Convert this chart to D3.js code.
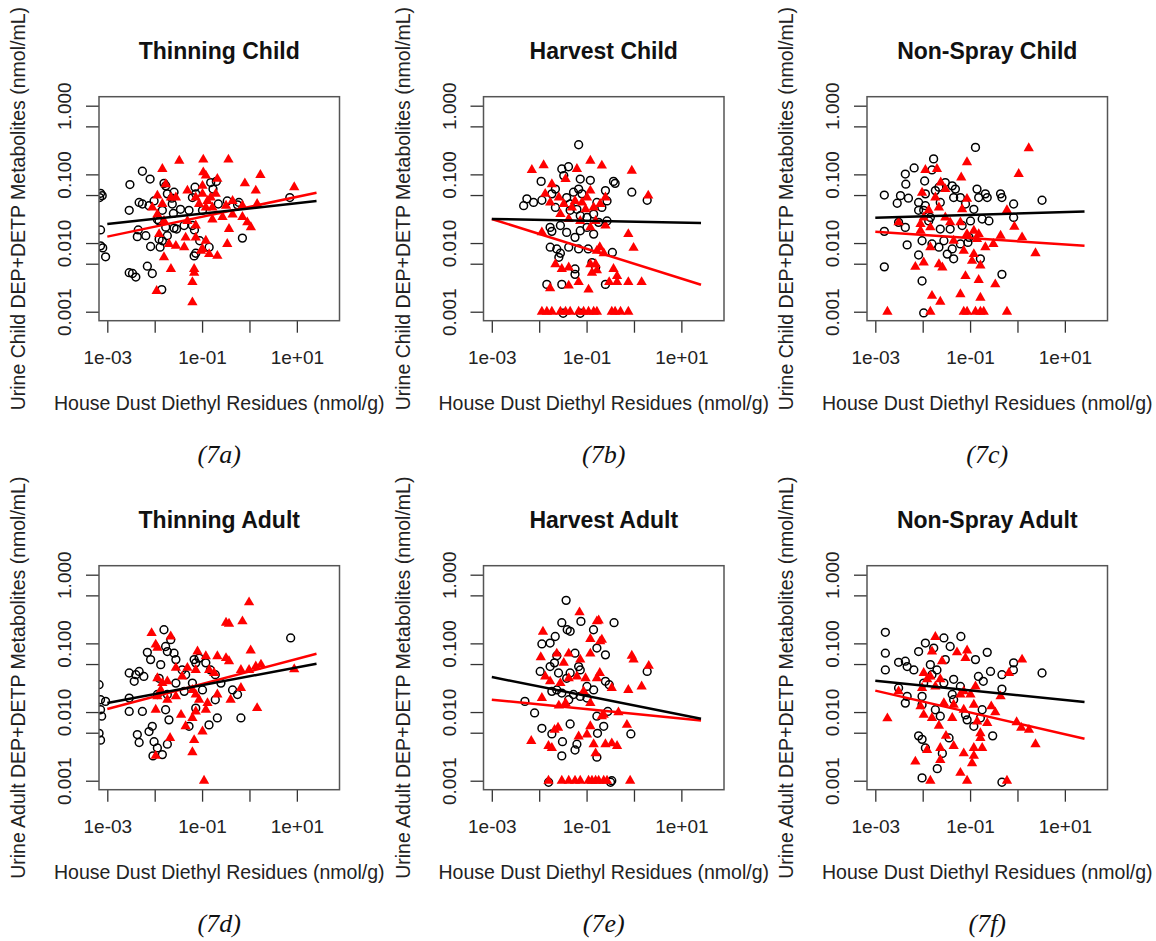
<!DOCTYPE html>
<html>
<head>
<meta charset="utf-8">
<script src="https://cdn.jsdelivr.net/npm/d3@7"></script>
<style>
  html, body { margin: 0; padding: 0; background: #fff; }
  svg { display: block; }
</style>
</head>
<body>
<svg id="fig" width="1156" height="941"></svg>
<script>
// values: [house dust residue nmol/g, urine metabolite nmol/mL]
const titles = ["Thinning Child", "Harvest Child", "Non-Spray Child",
                "Thinning Adult", "Harvest Adult", "Non-Spray Adult"];
const captions = ["(7a)", "(7b)", "(7c)", "(7d)", "(7e)", "(7f)"];
const yLabels = ["Urine Child DEP+DETP Metabolites (nmol/mL)", "Urine Child DEP+DETP Metabolites (nmol/mL)",
                 "Urine Child DEP+DETP Metabolites (nmol/mL)", "Urine Adult DEP+DETP Metabolites (nmol/mL)",
                 "Urine Adult DEP+DETP Metabolites (nmol/mL)", "Urine Adult DEP+DETP Metabolites (nmol/mL)"];
const xLabel = "House Dust Diethyl Residues (nmol/g)";
const xTicks = [0.001, 0.01, 0.1, 1, 10];
const xTickLabels = ["1e-03", "", "1e-01", "", "1e+01"];
const yTicks = [0.001, 0.005, 0.01, 0.05, 0.1, 0.5, 1];
const yTickLabels = ["0.001", "", "0.010", "", "0.100", "", "1.000"];

// fitted lines run over the same x span in every panel
const fitX = [0.001, 26];

// ---- Thinning Child ----
const thinChildCirc = [
  [0.00072,0.053],[0.00078,0.049],[0.00069,0.046],[0.00072,0.0155],[0.00072,0.0091],[0.0008,0.0085],[0.00092,0.0063],
  [0.0055,0.111],[0.008,0.0855],[0.003,0.071],[0.0029,0.030],[0.0047,0.039],[0.0055,0.037],[0.0076,0.035],
  [0.0045,0.0155],[0.0043,0.0124],[0.0065,0.0128],[0.0082,0.0089],[0.0034,0.0036],[0.004,0.0032],[0.007,0.0046],
  [0.0089,0.0036],[0.0029,0.0037],[0.0141,0.0021],[0.0157,0.074],[0.0171,0.068],[0.0185,0.052],[0.023,0.045],
  [0.0256,0.055],[0.0625,0.046],[0.071,0.065],[0.0248,0.027],[0.0145,0.030],[0.0114,0.022],[0.0124,0.021],
  [0.0171,0.017],[0.0256,0.0165],[0.029,0.016],[0.0417,0.018],[0.0625,0.018],[0.069,0.0155],[0.0124,0.0114],
  [0.0185,0.0128],[0.013,0.0087],[0.089,0.0108],[0.141,0.0087],[0.068,0.0065],[0.0735,0.0071],[0.152,0.076],
  [0.17,0.061],[0.2,0.079],[0.22,0.037],[0.6,0.039],[0.56,0.036],[0.71,0.0118],[7.1,0.046],[0.102,0.030],
  [0.0097,0.041],[0.0235,0.037],[0.035,0.031],[0.053,0.030],[0.0145,0.0108],[0.0735,0.052],[0.34,0.041]
];
const thinChildTri = [
  [0.033,0.158],[0.106,0.164],[0.36,0.164],[0.0145,0.120],[0.106,0.107],[0.12,0.096],[0.21,0.086],[1.7,0.098],
  [0.8,0.074],[1.36,0.058],[8.8,0.065],[0.0114,0.049],[0.0145,0.037],[0.0089,0.033],[0.022,0.046],[0.049,0.058],
  [0.0735,0.046],[0.102,0.052],[0.13,0.041],[0.152,0.046],[0.194,0.052],[0.0865,0.037],[0.12,0.033],[0.165,0.033],
  [0.32,0.035],[0.44,0.041],[0.71,0.035],[1.45,0.037],[0.44,0.026],[0.27,0.024],[0.71,0.024],[0.9,0.020],
  [1.07,0.017],[0.37,0.016],[0.165,0.022],[0.049,0.021],[0.0735,0.018],[0.0114,0.026],[0.0157,0.021],[0.0124,0.0135],
  [0.020,0.0097],[0.028,0.0091],[0.042,0.0087],[0.0735,0.012],[0.045,0.012],[0.12,0.0108],[0.141,0.0069],[0.21,0.0065],
  [0.34,0.0097],[0.102,0.0082],[0.0157,0.0062],[0.022,0.0042],[0.068,0.0042],[0.068,0.0037],[0.0625,0.0027],[0.011,0.002],
  [0.0625,0.00137],[0.0171,0.072],[0.102,0.068],[0.095,0.0077],[0.028,0.046]
];
const thinChildFitBlack = [0.0189, 0.0409];
const thinChildFitRed = [0.0124, 0.054];

// ---- Harvest Child ----
const harvChildCirc = [
  [0.068,0.27],[0.030,0.120],[0.0415,0.129],[0.011,0.079],[0.033,0.096],[0.0735,0.0855],[0.12,0.082],[0.37,0.079],
  [0.4,0.074],[0.9,0.055],[1.9,0.042],[0.0055,0.044],[0.0047,0.035],[0.0076,0.039],[0.0114,0.042],[0.0185,0.052],
  [0.022,0.061],[0.022,0.033],[0.038,0.046],[0.053,0.055],[0.068,0.061],[0.08,0.052],[0.25,0.058],[0.27,0.041],
  [0.165,0.039],[0.045,0.030],[0.0625,0.031],[0.0735,0.025],[0.102,0.0236],[0.141,0.0264],[0.179,0.020],[0.27,0.021],
  [0.028,0.018],[0.017,0.0169],[0.0185,0.0148],[0.038,0.0143],[0.0735,0.0151],[0.102,0.0169],[0.057,0.0121],[0.141,0.0135],
  [0.0171,0.0087],[0.0235,0.0082],[0.028,0.0071],[0.026,0.0062],[0.042,0.0087],[0.068,0.0082],[0.108,0.0082],[0.35,0.0073],
  [0.13,0.0052],[0.155,0.0044],[0.057,0.0042],[0.057,0.0035],[0.0145,0.0025],[0.030,0.0025],[0.25,0.0025],[0.032,0.00095],
  [0.0735,0.00095],[0.045,0.037],[0.21,0.033]
];
const harvChildTri = [
  [0.007,0.116],[0.0124,0.136],[0.0625,0.12],[0.12,0.158],[0.21,0.134],[0.9,0.113],[2.0,0.049],[0.0185,0.072],
  [0.036,0.0855],[0.12,0.058],[0.0134,0.052],[0.0171,0.039],[0.026,0.046],[0.033,0.037],[0.049,0.033],[0.057,0.041],
  [0.08,0.039],[0.102,0.046],[0.095,0.031],[0.141,0.033],[0.194,0.037],[0.25,0.046],[0.028,0.0264],[0.042,0.0224],
  [0.0735,0.021],[0.155,0.021],[0.25,0.018],[0.12,0.0169],[0.0114,0.0143],[0.76,0.0135],[0.98,0.0085],[0.19,0.0087],
  [0.23,0.0071],[0.165,0.0077],[0.12,0.0049],[0.155,0.0049],[0.022,0.0049],[0.03,0.0042],[0.042,0.0044],[0.13,0.0037],
  [0.165,0.0040],[0.37,0.0042],[0.44,0.0033],[0.3,0.0027],[0.44,0.0027],[0.76,0.0027],[1.45,0.0027],[0.017,0.0022],
  [0.042,0.0024],[0.068,0.0027],[0.11,0.0021],
  [0.0114,0.001],[0.0145,0.001],[0.0185,0.001],[0.028,0.001],[0.036,0.001],[0.045,0.001],[0.068,0.001],[0.0865,0.001],
  [0.11,0.001],[0.141,0.001],[0.165,0.001],[0.34,0.001],[0.4,0.001],[0.52,0.001],[0.76,0.001]
];
const harvChildFitBlack = [0.0224, 0.0196];
const harvChildFitRed = [0.0224, 0.00247];

// ---- Non-Spray Child ----
const nonChildCirc = [
  [0.13,0.247],[0.017,0.168],[0.0066,0.124],[0.0043,0.101],[0.0044,0.072],[0.011,0.080],[0.0157,0.116],[0.00155,0.05],
  [0.0029,0.038],[0.0034,0.049],[0.005,0.045],[0.0082,0.039],[0.0105,0.030],[0.0082,0.030],[0.0114,0.035],[0.0185,0.058],
  [0.022,0.065],[0.03,0.076],[0.042,0.068],[0.049,0.061],[0.045,0.046],[0.0625,0.046],[0.14,0.061],[0.152,0.046],
  [0.21,0.052],[0.23,0.046],[0.44,0.052],[0.47,0.046],[0.83,0.037],[0.83,0.0236],[3.3,0.042],[0.12,0.031],
  [0.18,0.0224],[0.25,0.021],[0.0031,0.020],[0.0043,0.0169],[0.00155,0.0148],[0.0047,0.0094],[0.00155,0.0045],[0.0097,0.0028],
  [0.0105,0.00096],[0.0082,0.0067],[0.0097,0.0108],[0.0157,0.0097],[0.022,0.0087],[0.028,0.0108],[0.033,0.0069],[0.045,0.0059],
  [0.042,0.0082],[0.0625,0.0097],[0.095,0.0121],[0.09,0.0102],[0.165,0.0059],[0.47,0.0035],[0.0235,0.016],[0.038,0.016],
  [0.0145,0.0236],[0.0114,0.052],[0.0235,0.039],[0.08,0.037],[0.102,0.021],[0.068,0.018],[0.0134,0.021]
];
const nonChildTri = [
  [1.73,0.24],[0.086,0.15],[1.06,0.101],[0.02,0.12],[0.0114,0.116],[0.065,0.09],[0.024,0.076],[0.03,0.061],
  [0.0097,0.054],[0.0185,0.046],[0.022,0.033],[0.0134,0.030],[0.0105,0.0236],[0.009,0.0189],[0.009,0.0151],[0.0145,0.0169],
  [0.03,0.0236],[0.038,0.020],[0.0625,0.020],[0.068,0.031],[0.086,0.044],[0.086,0.0135],[0.12,0.0151],[0.152,0.0135],
  [0.14,0.0114],[0.21,0.0087],[0.31,0.0097],[0.44,0.0128],[0.6,0.030],[0.86,0.0173],[1.25,0.0121],[2.4,0.0071],
  [0.0031,0.020],[0.0145,0.0087],[0.007,0.0045],[0.0105,0.0052],[0.022,0.0049],[0.026,0.0044],[0.08,0.0033],[0.152,0.0029],
  [0.34,0.0025],[0.0625,0.0018],[0.165,0.0016],[0.0157,0.0017],[0.0235,0.0014],[0.11,0.0055],[0.165,0.0047],[0.045,0.0108],
  [0.0735,0.0077],[0.12,0.0069],
  [0.0018,0.001],[0.0145,0.001],[0.0735,0.001],[0.0865,0.001],[0.13,0.001],[0.165,0.001],[0.194,0.001],[0.6,0.001]
];
const nonChildFitBlack = [0.0234, 0.0289];
const nonChildFitRed = [0.0146, 0.00915];

// ---- Thinning Adult ----
const thinAdultCirc = [
  [7.4,0.12],[0.0157,0.158],[0.0218,0.113],[0.017,0.090],[0.0185,0.076],[0.007,0.074],[0.0082,0.058],[0.0134,0.049],
  [0.0256,0.072],[0.028,0.058],[0.0029,0.037],[0.004,0.035],[0.0047,0.039],[0.0059,0.033],[0.0037,0.028],[0.00067,0.025],
  [0.00072,0.0151],[0.00092,0.0143],[0.00072,0.0108],[0.00076,0.0087],[0.00067,0.0049],[0.00072,0.0039],[0.0029,0.016],[0.0029,0.0102],
  [0.0055,0.0102],[0.0089,0.0062],[0.0076,0.0052],[0.0043,0.0047],[0.0047,0.0036],[0.0097,0.0037],[0.0114,0.003],[0.0145,0.0024],
  [0.0092,0.0023],[0.0185,0.0034],[0.020,0.0077],[0.017,0.0108],[0.0114,0.018],[0.0124,0.031],[0.028,0.0264],[0.042,0.020],
  [0.0625,0.0264],[0.0735,0.052],[0.068,0.058],[0.0865,0.061],[0.15,0.041],[0.19,0.035],[0.25,0.0264],[0.19,0.0151],
  [0.0735,0.0114],[0.053,0.0062],[0.14,0.0065],[0.21,0.0082],[0.66,0.0082],[0.44,0.021],[0.56,0.018],[0.12,0.052],
  [0.038,0.041],[0.045,0.035],[0.102,0.021],[0.0185,0.018]
];
const thinAdultTri = [
  [0.98,0.395],[0.32,0.20],[0.37,0.193],[0.71,0.209],[1.06,0.079],[0.0086,0.141],[0.0105,0.096],[0.0114,0.086],
  [0.0218,0.126],[0.08,0.076],[0.12,0.065],[0.21,0.065],[0.32,0.061],[0.37,0.055],[0.028,0.044],[0.049,0.044],
  [0.0735,0.041],[0.141,0.041],[0.18,0.037],[0.66,0.041],[0.98,0.041],[1.36,0.046],[1.75,0.049],[8.8,0.042],
  [0.0114,0.031],[0.0145,0.0264],[0.0185,0.028],[0.0134,0.021],[0.0114,0.0169],[0.0185,0.0151],[0.0105,0.0108],[0.0625,0.021],
  [0.0735,0.018],[0.0865,0.0151],[0.13,0.0135],[0.12,0.0108],[0.0735,0.0102],[0.0625,0.0082],[0.036,0.0091],[0.045,0.0062],
  [0.102,0.0052],[0.068,0.0039],[0.0625,0.0026],[0.0211,0.0042],[0.0105,0.0023],[0.11,0.001],[0.4,0.0151],[0.66,0.0224],
  [1.45,0.0114],[0.21,0.018],[0.028,0.0169],[0.038,0.033]
];
const thinAdultFitBlack = [0.0135, 0.0506];
const thinAdultFitRed = [0.0111, 0.0707];

// ---- Harvest Adult ----
const harvAdultCirc = [
  [0.037,0.423],[0.030,0.20],[0.039,0.158],[0.045,0.15],[0.076,0.209],[0.38,0.20],[0.14,0.158],[0.0218,0.126],
  [0.0114,0.098],[0.017,0.101],[0.165,0.0855],[0.25,0.068],[0.0235,0.066],[0.021,0.052],[0.017,0.046],[0.057,0.072],
  [0.0735,0.041],[0.068,0.046],[0.0105,0.039],[0.045,0.037],[0.0256,0.037],[1.9,0.039],[0.038,0.031],[0.25,0.028],
  [0.3,0.025],[0.0185,0.020],[0.0235,0.021],[0.03,0.0189],[0.053,0.018],[0.0735,0.0169],[0.102,0.016],[0.042,0.0151],
  [0.005,0.0143],[0.008,0.0097],[0.165,0.0087],[0.28,0.0102],[0.23,0.0062],[0.17,0.0049],[0.0114,0.0058],[0.0185,0.0048],
  [0.045,0.0067],[0.031,0.0037],[0.0625,0.0034],[0.057,0.0028],[0.03,0.0023],[0.165,0.0022],[0.86,0.0048],[0.0158,0.00095],
  [0.32,0.00095],[0.34,0.001],[0.102,0.0236],[0.141,0.021]
];
const harvAdultTri = [
  [0.071,0.283],[0.18,0.216],[0.165,0.209],[0.012,0.148],[0.12,0.116],[0.21,0.113],[0.194,0.107],[0.9,0.066],
  [0.98,0.058],[2.05,0.047],[0.0108,0.063],[0.0235,0.071],[0.042,0.071],[0.0735,0.058],[0.12,0.071],[0.0134,0.033],
  [0.017,0.028],[0.042,0.031],[0.028,0.0264],[0.095,0.031],[0.19,0.037],[0.165,0.031],[0.34,0.0224],[0.76,0.021],
  [1.45,0.0236],[0.0114,0.016],[0.026,0.0124],[0.036,0.0135],[0.12,0.0135],[0.21,0.0087],[0.23,0.0091],[0.47,0.0099],
  [0.71,0.0065],[0.12,0.0062],[0.102,0.0047],[0.068,0.0044],[0.025,0.0059],[0.0211,0.0055],[0.0068,0.0038],[0.0157,0.0032],
  [0.0185,0.003],[0.141,0.0034],[0.155,0.0025],[0.25,0.0034],[0.34,0.0035],[0.44,0.0032],[0.0865,0.020],[0.0625,0.033],
  [0.033,0.052],
  [0.0157,0.001],[0.03,0.001],[0.042,0.001],[0.057,0.001],[0.0735,0.001],[0.11,0.001],[0.13,0.001],[0.155,0.001],
  [0.18,0.001],[0.23,0.001],[0.27,0.001],[0.83,0.001]
];
const harvAdultFitBlack = [0.0323, 0.0080];
const harvAdultFitRed = [0.0151, 0.00756];

// ---- Non-Spray Adult ----
const nonAdultCirc = [
  [0.00163,0.145],[0.00163,0.072],[0.00163,0.041],[0.0031,0.053],[0.0043,0.055],[0.0047,0.046],[0.0065,0.041],[0.0082,0.076],
  [0.0114,0.101],[0.0171,0.0855],[0.028,0.12],[0.038,0.09],[0.064,0.126],[0.23,0.074],[0.13,0.058],[0.03,0.058],
  [0.0145,0.049],[0.020,0.041],[0.83,0.052],[0.82,0.041],[3.3,0.037],[0.27,0.039],[0.15,0.033],[0.19,0.028],
  [0.47,0.035],[0.47,0.0216],[0.045,0.030],[0.0625,0.0236],[0.028,0.0264],[0.0031,0.0224],[0.0047,0.0169],[0.0043,0.0135],
  [0.0097,0.0169],[0.0097,0.0128],[0.0185,0.0108],[0.0235,0.0087],[0.042,0.018],[0.08,0.0091],[0.0865,0.0077],[0.18,0.0108],
  [0.165,0.0082],[0.12,0.0062],[0.3,0.0045],[0.0082,0.0045],[0.0097,0.0040],[0.0114,0.003],[0.036,0.0042],[0.026,0.0025],
  [0.0203,0.0015],[0.0097,0.0011],[0.47,0.00095],[0.045,0.0151],[0.0105,0.0264],[0.0157,0.035]
];
const nonAdultTri = [
  [0.0185,0.124],[0.0157,0.076],[0.0256,0.055],[0.053,0.074],[0.0865,0.079],[0.08,0.061],[1.25,0.058],[0.66,0.037],
  [0.0105,0.037],[0.0124,0.030],[0.0145,0.033],[0.0185,0.0236],[0.0235,0.030],[0.0097,0.0224],[0.0625,0.018],[0.0735,0.020],
  [0.102,0.018],[0.13,0.0236],[0.44,0.0169],[0.0031,0.020],[0.0018,0.0081],[0.028,0.0135],[0.045,0.0128],[0.0735,0.0108],
  [0.12,0.0128],[0.28,0.0121],[0.34,0.0099],[0.009,0.0121],[0.0105,0.0091],[0.0157,0.0082],[0.022,0.0063],[0.042,0.0082],
  [0.141,0.0073],[0.23,0.0069],[0.165,0.0049],[0.165,0.0042],[0.96,0.0071],[1.2,0.0059],[1.75,0.0055],[2.4,0.0034],
  [0.031,0.0045],[0.0124,0.0028],[0.0235,0.003],[0.045,0.0032],[0.0735,0.0025],[0.12,0.003],[0.18,0.003],[0.12,0.0023],
  [0.11,0.0018],[0.0235,0.002],[0.007,0.0019],[0.0625,0.0013],[0.0145,0.001],[0.0865,0.001],[0.6,0.001]
];
const nonAdultFitBlack = [0.0286, 0.0140];
const nonAdultFitRed = [0.0205, 0.00409];

// panel table built from the arrays above
const panels = [
  {circ: thinChildCirc, tri: thinChildTri, black: thinChildFitBlack, red: thinChildFitRed},
  {circ: harvChildCirc, tri: harvChildTri, black: harvChildFitBlack, red: harvChildFitRed},
  {circ: nonChildCirc,  tri: nonChildTri,  black: nonChildFitBlack,  red: nonChildFitRed},
  {circ: thinAdultCirc, tri: thinAdultTri, black: thinAdultFitBlack, red: thinAdultFitRed},
  {circ: harvAdultCirc, tri: harvAdultTri, black: harvAdultFitBlack, red: harvAdultFitRed},
  {circ: nonAdultCirc,  tri: nonAdultTri,  black: nonAdultFitBlack,  red: nonAdultFitRed}
];

// layout
const W = 240.5, H = 224;
const boxLeft = [99, 483.5, 867];
const boxTop = [96.7, 565.7];
const sans = "'Liberation Sans', Arial, Helvetica, sans-serif";

const x = d3.scaleLog().domain([6.68e-4, 79.4]).range([0, W]);
const y = d3.scaleLog().domain([7.4e-4, 1.352]).range([H, 0]);

const svg = d3.select("#fig");
svg.append("rect").attr("width", 1156).attr("height", 941).attr("fill", "#fff");

const tri = d3.symbol().type(d3.symbolTriangle).size(46);
const fitLine = d3.line().x(d => x(d[0])).y(d => y(d[1]));

panels.forEach(function(p, i) {
  const col = i % 3, row = Math.floor(i / 3);
  const g = svg.append("g")
    .attr("transform", "translate(" + boxLeft[col] + "," + boxTop[row] + ")");

  // clip to plot region like R does
  g.append("clipPath").attr("id", "clip" + i)
    .append("rect").attr("width", W).attr("height", H);

  // x axis
  const xa = g.append("g")
    .attr("transform", "translate(0," + H + ")")
    .call(d3.axisBottom(x).tickValues(xTicks).tickFormat((d, k) => xTickLabels[k]).tickSize(12).tickSizeOuter(0));
  xa.select(".domain").remove();
  xa.selectAll(".tick line").attr("stroke", "#333").attr("stroke-width", 1.3);
  xa.selectAll(".tick text")
    .attr("y", 43.6).attr("dy", 0)
    .attr("fill", "#222")
    .style("font-family", sans).style("font-size", "19px");

  // y axis
  const ya = g.append("g")
    .call(d3.axisLeft(y).tickValues(yTicks).tickFormat((d, k) => yTickLabels[k]).tickSize(13).tickSizeOuter(0));
  ya.select(".domain").remove();
  ya.selectAll(".tick line").attr("stroke", "#333").attr("stroke-width", 1.3);
  ya.selectAll(".tick text")
    .attr("x", 0).attr("y", 0).attr("dy", 0)
    .attr("transform", "translate(-28,0) rotate(-90)")
    .attr("text-anchor", "middle")
    .attr("fill", "#222")
    .style("font-family", sans).style("font-size", "19px");

  const plot = g.append("g").attr("clip-path", "url(#clip" + i + ")");

  plot.selectAll("circle")
    .data(p.circ)
    .join("circle")
    .attr("cx", d => x(d[0]))
    .attr("cy", d => y(d[1]))
    .attr("r", 3.9)
    .attr("fill", "none")
    .attr("stroke", "#000")
    .attr("stroke-width", 1.5);

  plot.selectAll("path.tri")
    .data(p.tri)
    .join("path")
    .attr("class", "tri")
    .attr("transform", d => "translate(" + x(d[0]) + "," + y(d[1]) + ")")
    .attr("d", tri)
    .attr("fill", "#ff0000");

  plot.append("path")
    .datum(fitX.map((v, k) => [v, p.red[k]]))
    .attr("d", fitLine)
    .attr("fill", "none").attr("stroke", "#ff0000").attr("stroke-width", 2.5);
  plot.append("path")
    .datum(fitX.map((v, k) => [v, p.black[k]]))
    .attr("d", fitLine)
    .attr("fill", "none").attr("stroke", "#000").attr("stroke-width", 2.5);

  // box
  g.append("rect").attr("width", W).attr("height", H)
    .attr("fill", "none").attr("stroke", "#555").attr("stroke-width", 1.5);

  g.append("text")
    .attr("x", W / 2).attr("y", -37.4)
    .attr("text-anchor", "middle")
    .style("font-family", sans).style("font-size", "23px").style("font-weight", "bold")
    .attr("fill", "#111")
    .text(titles[i]);

  g.append("text")
    .attr("x", W / 2).attr("y", H + 89.3)
    .attr("text-anchor", "middle")
    .style("font-family", sans).style("font-size", "19.5px")
    .attr("fill", "#222")
    .text(xLabel);

  g.append("text")
    .attr("transform", "translate(-74," + (H / 2) + ") rotate(-90)")
    .attr("text-anchor", "middle")
    .style("font-family", sans).style("font-size", "19.5px")
    .attr("fill", "#222")
    .text(yLabels[i]);

  g.append("text")
    .attr("x", W / 2).attr("y", H + 142.7)
    .attr("text-anchor", "middle")
    .style("font-family", "'Liberation Serif', 'Times New Roman', serif")
    .style("font-style", "italic").style("font-size", "26px")
    .attr("fill", "#111")
    .text(captions[i]);
});
</script>
</body>
</html>
